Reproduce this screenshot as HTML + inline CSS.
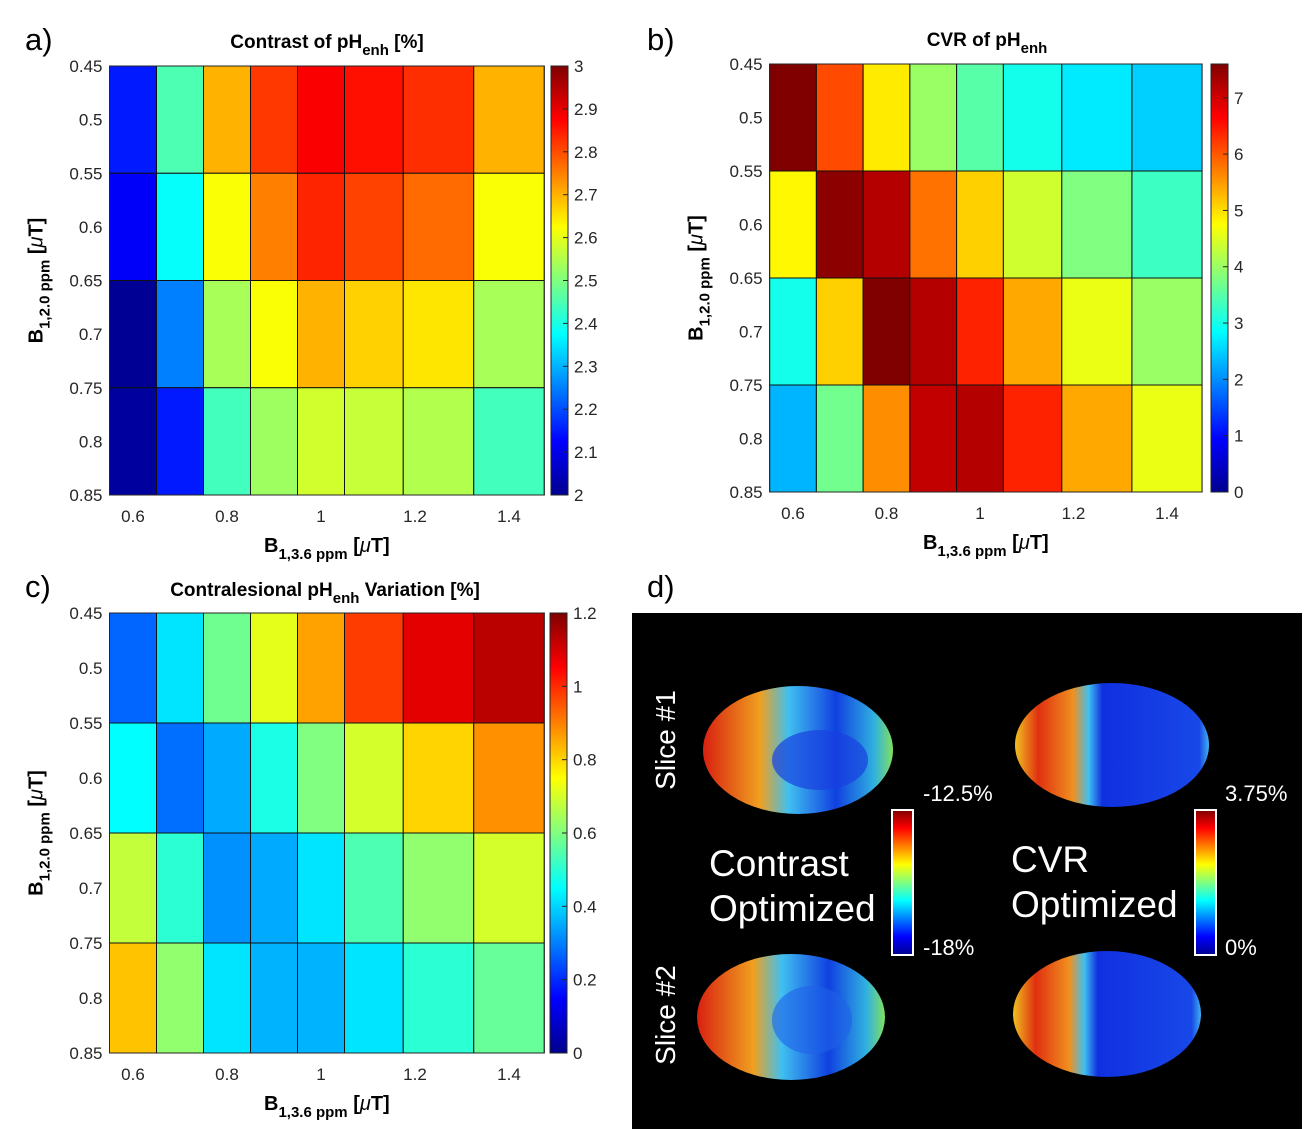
<!DOCTYPE html>
<html><head><meta charset="utf-8">
<style>
html,body{margin:0;padding:0;background:#fff;}
svg{display:block;font-family:"Liberation Sans",Arial,sans-serif;}
</style></head>
<body>
<svg id="fig" width="1312" height="1129" viewBox="0 0 1312 1129" xmlns="http://www.w3.org/2000/svg">
<defs>
<linearGradient id="jetV" x1="0" y1="1" x2="0" y2="0">
<stop offset="0" stop-color="#00008f"/><stop offset="0.125" stop-color="#0000ff"/><stop offset="0.375" stop-color="#00ffff"/><stop offset="0.625" stop-color="#ffff00"/><stop offset="0.875" stop-color="#ff0000"/><stop offset="1" stop-color="#800000"/>
</linearGradient>
<linearGradient id="brainL" x1="0" y1="0" x2="1" y2="0">
<stop offset="0" stop-color="#d82010"/><stop offset="0.3" stop-color="#f0a020"/><stop offset="0.45" stop-color="#40c0f0"/><stop offset="0.7" stop-color="#1040e0"/><stop offset="0.9" stop-color="#30b0e0"/><stop offset="1" stop-color="#80e060"/>
</linearGradient>
<linearGradient id="brainR" x1="0" y1="0" x2="1" y2="0">
<stop offset="0" stop-color="#f0c020"/><stop offset="0.12" stop-color="#e03010"/><stop offset="0.3" stop-color="#f09020"/><stop offset="0.38" stop-color="#40c0f0"/><stop offset="0.45" stop-color="#1030e0"/><stop offset="0.95" stop-color="#1848e8"/><stop offset="1" stop-color="#40b0f0"/>
</linearGradient>
</defs>
<g id="root"></g>
</svg>
<script>
// ---- data ----
const xVals = [0.6, 0.7, 0.8, 0.9, 1.0, 1.1, 1.25, 1.4];
const yVals = [0.5, 0.6, 0.7, 0.8];
const contrastVals = [
 [2.15, 2.45, 2.70, 2.82, 2.88, 2.86, 2.83, 2.70],
 [2.12, 2.38, 2.62, 2.75, 2.84, 2.81, 2.77, 2.62],
 [2.02, 2.25, 2.54, 2.62, 2.70, 2.67, 2.65, 2.54],
 [2.03, 2.15, 2.44, 2.53, 2.58, 2.57, 2.55, 2.44]
];
const cvrVals = [
 [7.6, 6.1, 4.9, 4.0, 3.5, 3.0, 2.7, 2.5],
 [4.8, 7.5, 7.2, 5.8, 5.1, 4.4, 3.8, 3.3],
 [3.0, 5.1, 7.6, 7.2, 6.4, 5.4, 4.6, 4.0],
 [2.3, 3.7, 5.6, 7.1, 7.2, 6.4, 5.4, 4.6]
];
const variationVals = [
 [0.27, 0.42, 0.58, 0.72, 0.86, 0.98, 1.08, 1.13],
 [0.45, 0.28, 0.35, 0.48, 0.60, 0.70, 0.80, 0.88],
 [0.68, 0.50, 0.32, 0.35, 0.42, 0.54, 0.62, 0.70],
 [0.82, 0.62, 0.42, 0.36, 0.36, 0.42, 0.50, 0.57]
];
const xTicks = [0.6, 0.8, 1, 1.2, 1.4];
const yTicks = [0.45, 0.5, 0.55, 0.6, 0.65, 0.7, 0.75, 0.8, 0.85];
const cbTicksA = [2, 2.1, 2.2, 2.3, 2.4, 2.5, 2.6, 2.7, 2.8, 2.9, 3];
const cbTicksB = [0, 1, 2, 3, 4, 5, 6, 7];
const cbTicksC = [0, 0.2, 0.4, 0.6, 0.8, 1, 1.2];

const NS = "http://www.w3.org/2000/svg";
const root = document.getElementById('root');
function mk(tag, attrs, parent) {
  const e = document.createElementNS(NS, tag);
  for (const k in attrs) e.setAttribute(k, attrs[k]);
  (parent || root).appendChild(e);
  return e;
}
function clamp(v){return Math.max(0,Math.min(1,v));}
function jet(t){
  t = clamp(t);
  const r = clamp(1.5-Math.abs(4*t-3)), g = clamp(1.5-Math.abs(4*t-2)), b = clamp(1.5-Math.abs(4*t-1));
  return `rgb(${Math.round(r*255)},${Math.round(g*255)},${Math.round(b*255)})`;
}
function fmt(v){return String(+v.toFixed(2));}

function panel(p) {
  const g = mk('g', {});
  
  
  const xs = v => p.x06 + (v - 0.6) * p.xs;
  const ys = v => p.top + (v - 0.45) * (p.bottom - p.top) / 0.4;
  const ct = v => (v - p.cmin) / (p.cmax - p.cmin);
  const xe = [xVals[0] - (xVals[1]-xVals[0])/2];
  for (let i=0;i<xVals.length-1;i++) xe.push((xVals[i]+xVals[i+1])/2);
  xe.push(xVals[xVals.length-1] + (xVals[xVals.length-1]-xVals[xVals.length-2])/2);
  const ye = [yVals[0]-0.05];
  for (let i=0;i<yVals.length-1;i++) ye.push((yVals[i]+yVals[i+1])/2);
  ye.push(yVals[yVals.length-1]+0.05);
  for (let r=0;r<yVals.length;r++) for (let c=0;c<xVals.length;c++) {
    const x1=xs(xe[c]), x2=xs(xe[c+1]), y1=ys(ye[r]), y2=ys(ye[r+1]);
    const cell = mk('rect',{x:x1,y:y1,width:x2-x1,height:y2-y1,fill:jet(ct(p.data[r][c])),stroke:'#111','stroke-width':1},g);
    
    
  }
  const L = xs(xe[0]), R = xs(xe[xe.length-1]);
  mk('rect',{x:L,y:p.top,width:R-L,height:p.bottom-p.top,fill:'none',stroke:'#262626','stroke-width':1},g);
  xTicks.forEach(v=>{
    const t = mk('text',{x:xs(v),y:p.bottom+27,'text-anchor':'middle','font-size':17,fill:'#262626'},g);
    t.textContent = fmt(v);
    
    
  });
  yTicks.forEach(v=>{
    const t = mk('text',{x:L-7,y:ys(v)+6,'text-anchor':'end','font-size':17,fill:'#262626'},g);
    t.textContent = fmt(v);
    
    
  });
  const cb = mk('rect',{x:p.cbx,y:p.top,width:17,height:p.bottom-p.top,fill:'url(#jetV)',stroke:'#262626','stroke-width':1},g);
  
  
  p.cbTicks.forEach(v=>{
    const yy = p.bottom - ct(v)*(p.bottom-p.top);
    mk('line',{x1:p.cbx+12,x2:p.cbx+17,y1:yy,y2:yy,stroke:'#262626'},g);
    const t = mk('text',{x:p.cbx+23,y:yy+6,'font-size':17,fill:'#262626'},g);
    t.textContent = fmt(v);
    
    
  });
  const ti = mk('text',{x:p.tx,y:p.ty,'text-anchor':'middle','font-size':19,'font-weight':'bold',fill:'#000'},g);
  ti.innerHTML = p.title;
  
  
  const xl = mk('text',{x:(L+R)/2,y:p.bottom+57,'text-anchor':'middle','font-size':20,'font-weight':'bold',fill:'#000'},g);
  xl.innerHTML = 'B<tspan font-size="15" dy="7">1,3.6 ppm</tspan><tspan dy="-7"> [</tspan><tspan font-style="italic" font-weight="normal">μ</tspan><tspan>T]</tspan>';
  
  
  const cy = (p.top+p.bottom)/2;
  const yl = mk('text',{x:0,y:0,'text-anchor':'middle','font-size':20,'font-weight':'bold',fill:'#000',transform:`translate(${L-67},${cy}) rotate(-90)`},g);
  yl.innerHTML = 'B<tspan font-size="15" dy="7">1,2.0 ppm</tspan><tspan dy="-7"> [</tspan><tspan font-style="italic" font-weight="normal">μ</tspan><tspan>T]</tspan>';
  
  
  const lt = mk('text',{x:p.lx,y:p.ly,'font-size':31,fill:'#000'},g);
  lt.textContent = p.letter;
  
  
}

panel({name:'panel-a-contrast-heatmap',data:contrastVals,x06:133,xs:470,top:66,bottom:495,cmin:2,cmax:3,cbx:551,cbTicks:cbTicksA,
  title:'Contrast of pH<tspan font-size="15" dy="7">enh</tspan><tspan dy="-7"> [%]</tspan>',tx:327,ty:48,letter:'a)',lx:25,ly:50});
panel({name:'panel-b-cvr-heatmap',data:cvrVals,x06:793,xs:467.5,top:64,bottom:492,cmin:0,cmax:7.6,cbx:1211,cbTicks:cbTicksB,
  title:'CVR of pH<tspan font-size="15" dy="7">enh</tspan>',tx:987,ty:46,letter:'b)',lx:647,ly:50});
panel({name:'panel-c-variation-heatmap',data:variationVals,x06:133,xs:470,top:613,bottom:1053,cmin:0,cmax:1.2,cbx:550,cbTicks:cbTicksC,
  title:'Contralesional pH<tspan font-size="15" dy="7">enh</tspan><tspan dy="-7"> Variation [%]</tspan>',tx:325,ty:596,letter:'c)',lx:25,ly:597});

// ---- panel d ----
const d = mk('g',{});


const dl = mk('text',{x:647,y:597,'font-size':31,fill:'#000'},d);
dl.textContent='d)';


mk('rect',{x:632,y:613,width:670,height:516,fill:'#000'},d);
function brain(cx,cy,rx,ry,grad,name){
  const b = mk('ellipse',{cx,cy,rx,ry,fill:`url(#${grad})`},d);
  
  
}
brain(798,750,95,64,'brainL','brain-contrast-slice-1');
brain(1112,745,97,62,'brainR','brain-cvr-slice-1');
brain(791,1017,94,63,'brainL','brain-contrast-slice-2');
brain(1107,1014,94,63,'brainR','brain-cvr-slice-2');
mk('ellipse',{cx:820,cy:760,rx:48,ry:30,fill:'#1840e0',opacity:0.7},d);
mk('ellipse',{cx:812,cy:1020,rx:40,ry:34,fill:'#2060e8',opacity:0.6},d);
[[892,810],[1195,810]].forEach(([x,y])=>{
  const c = mk('rect',{x,y,width:21,height:145,fill:'url(#jetV)',stroke:'#fff','stroke-width':2},d);
  
  
});
function wt(x,y,s,txt,name,extra){
  const t = mk('text',Object.assign({x,y,'font-size':s,fill:'#fff'},extra||{}),d);
  t.textContent = txt;
  
  
}
wt(923,801,22,'-12.5%','colorbar-max-label');
wt(923,955,22,'-18%','colorbar-min-label');
wt(1225,801,22,'3.75%','colorbar-max-label');
wt(1225,955,22,'0%','colorbar-min-label');
wt(709,876,37,'Contrast','contrast-optimized-label');
wt(709,921,37,'Optimized','contrast-optimized-label');
wt(1011,872,37,'CVR','cvr-optimized-label');
wt(1011,917,37,'Optimized','cvr-optimized-label');
wt(0,0,28,'Slice #1','slice-1-label',{'text-anchor':'middle',transform:'translate(675,740) rotate(-90)'});
wt(0,0,28,'Slice #2','slice-2-label',{'text-anchor':'middle',transform:'translate(675,1015) rotate(-90)'});
</script>
</body></html>
